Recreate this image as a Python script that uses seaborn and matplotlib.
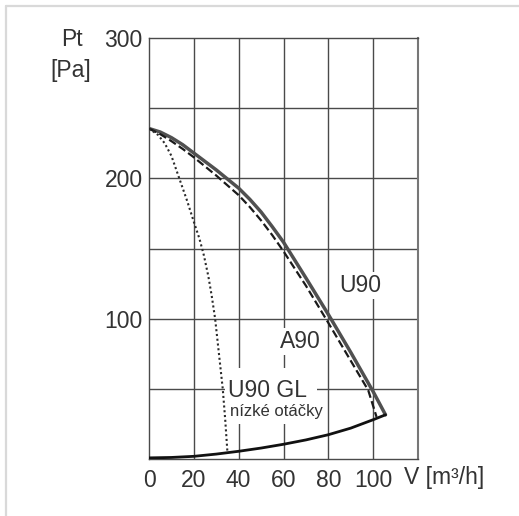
import matplotlib
matplotlib.use("Agg")
import matplotlib.pyplot as plt
import matplotlib.transforms as mtransforms
from matplotlib.lines import Line2D
from matplotlib.patches import Rectangle
import seaborn as sns
import pandas as pd

# ---- data ----
u90_x = [0, 5, 10, 15, 20, 25, 30, 35, 40, 45, 50, 55, 60, 70, 80, 90, 100, 105.5]
u90_y = [235.5, 233, 229, 224, 218, 212, 206, 199.5, 193, 185, 176, 165.5, 154.5, 129, 103, 76, 48, 31.5]

a90_x = [0, 5, 10, 15, 20, 25, 30, 35, 40, 45, 50, 55, 60, 70, 80, 90, 97.8, 101.5]
a90_y = [235.5, 231.5, 226.5, 221, 215, 208.5, 202, 195, 188, 179.5, 170, 159.5, 148, 123.5, 97, 70, 49, 30]

gl_x = [0, 4, 7, 10, 13.5, 17, 20, 22.5, 24.5, 26.5, 28, 29.5, 31.2, 32.9, 34, 35]
gl_y = [235.5, 231, 225, 216, 200, 184, 169, 157, 145, 130, 116, 100, 75, 50, 28, 4.5]

sys_x = [0, 10, 20, 30, 40, 50, 60, 70, 80, 90, 100, 105.5]
sys_y = [0.8, 1.1, 1.9, 3.5, 5.5, 7.8, 10.5, 13.6, 17.3, 22, 28, 31.5]

x_ticks = [0, 20, 40, 60, 80, 100]
y_ticks = [100, 200, 300]
x_grid = [20, 40, 60, 80, 100]
y_grid = [50, 100, 150, 200, 250]

sns.set_theme(style="white")
plt.rcParams["font.family"] = ["Liberation Sans", "DejaVu Sans"]

fig = plt.figure(figsize=(5.19, 5.16), dpi=100)
ax = fig.add_axes([149 / 519, 1 - 459 / 516, (418 - 149) / 519, (459 - 38) / 516])

grid_c = "#4a4a4a"
for gx in x_grid:
    ax.axvline(gx, color=grid_c, lw=1.0, zorder=1)
for gy in y_grid:
    ax.axhline(gy, color=grid_c, lw=1.0, zorder=1)

df_u = pd.DataFrame({"x": u90_x, "y": u90_y})
df_a = pd.DataFrame({"x": a90_x, "y": a90_y})
df_g = pd.DataFrame({"x": gl_x, "y": gl_y})
df_s = pd.DataFrame({"x": sys_x, "y": sys_y})

# white box behind the "U90 GL" label
ax.add_patch(Rectangle((33.8, 25), 41.2, 39.5, facecolor="white", edgecolor="none", zorder=2))

sns.lineplot(data=df_u, x="x", y="y", ax=ax, color="#505050", lw=2.5,
             estimator=None, sort=False, zorder=4)
sns.lineplot(data=df_a, x="x", y="y", ax=ax, color="#1a1a1a", lw=1.6,
             linestyle=(0, (3.6, 1.6)), estimator=None, sort=False, zorder=4)
sns.lineplot(data=df_g, x="x", y="y", ax=ax, color="#2a2a2a", lw=1.5,
             linestyle=(0, (1, 1.3)), estimator=None, sort=False, zorder=4)
sns.lineplot(data=df_s, x="x", y="y", ax=ax, color="#111111", lw=2.0,
             estimator=None, sort=False, zorder=4)

ax.set_xlim(0, 120)
ax.set_ylim(0, 300)
ax.set_xticks(x_ticks)
ax.set_yticks(y_ticks)
ax.set_xticklabels([str(v) for v in x_ticks])
ax.set_yticklabels([str(v) for v in y_ticks])
fs = 16.5
ax.tick_params(axis="both", length=0, labelsize=fs, labelcolor="#333333")
ax.tick_params(axis="x", pad=7.5)
ax.tick_params(axis="y", pad=4.5)
ax.set_xlabel("")
ax.set_ylabel("")
for sp in ax.spines.values():
    sp.set_color(grid_c)
    sp.set_linewidth(1.0)
ax.spines["right"].set_color("#777777")
ax.spines["right"].set_linewidth(1.5)

tc = "#333333"
bb = dict(facecolor="white", edgecolor="none", pad=1.5)
ax.text(94.2, 123.5, "U90", fontsize=fs, color=tc, ha="center", va="center", bbox=bb, zorder=3)
ax.text(67.4, 83.5, "A90", fontsize=fs, color=tc, ha="center", va="center", bbox=bb, zorder=3)
ax.text(53.0, 48.5, "U90 GL", fontsize=fs, color=tc, ha="center", va="center", zorder=3)
ax.text(56.7, 33.5, "nízké otáčky", fontsize=12, color=tc, ha="center", va="center", zorder=3)

trans = mtransforms.blended_transform_factory(ax.transData, ax.transAxes)
ax.text(131.8, -0.045, "V [m³/h]", fontsize=fs, color=tc, ha="center", va="center",
        transform=trans, clip_on=False)
fig.text(71.5 / 519, 1 - 40 / 516, "Pt", fontsize=fs, color=tc, ha="center", va="center")
fig.text(71 / 519, 1 - 70 / 516, "[Pa]", fontsize=fs, color=tc, ha="center", va="center")

# light frame lines (left and top) of the image
fc = "#d9d9d9"
fig.add_artist(Line2D([6 / 519, 6 / 519], [0, 1 - 6 / 516], color=fc, lw=1.6, transform=fig.transFigure))
fig.add_artist(Line2D([6 / 519, 1], [1 - 6 / 516, 1 - 6 / 516], color=fc, lw=1.6, transform=fig.transFigure))

fig.savefig("out.png", dpi=100)
